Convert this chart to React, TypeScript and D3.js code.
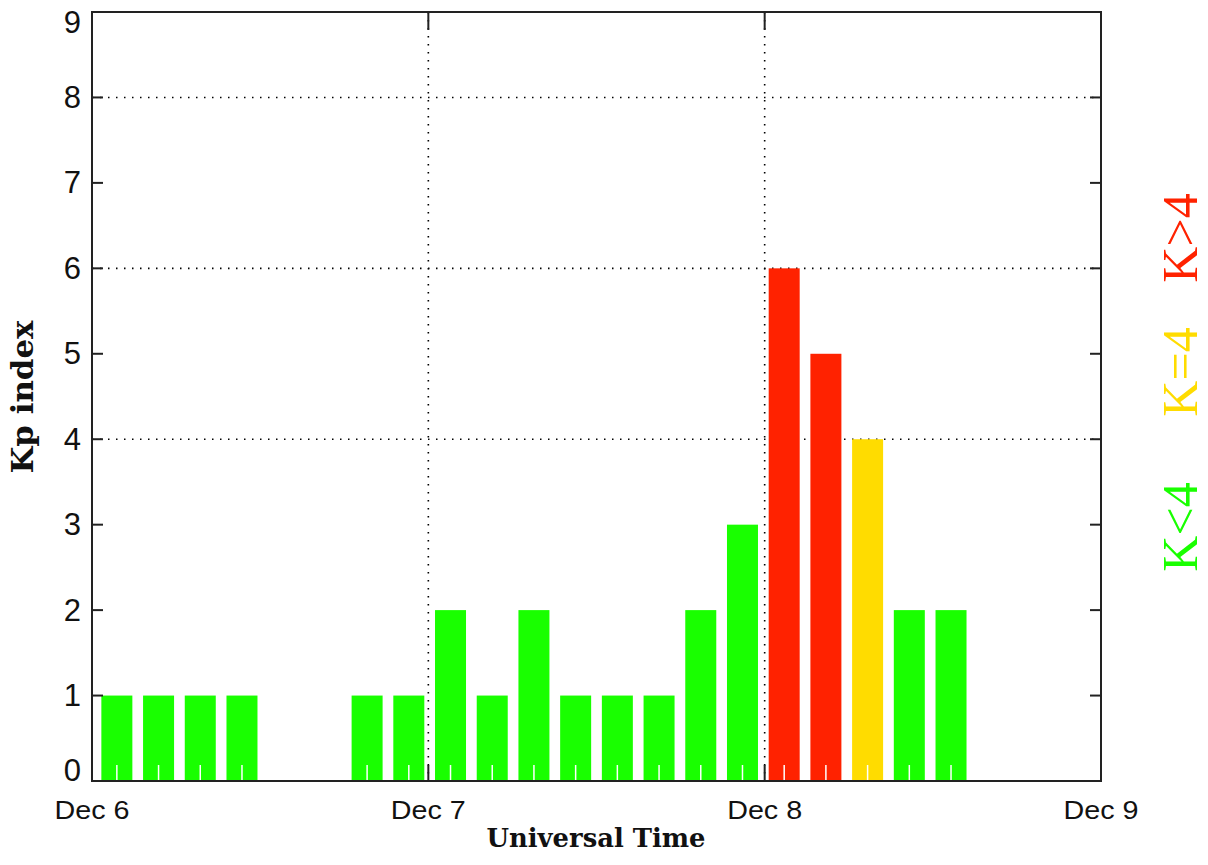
import React from "react";
import * as d3 from "d3";

// ---- data ----
const slotTimes = [
  "2006-12-06T00:00Z", "2006-12-06T03:00Z", "2006-12-06T06:00Z", "2006-12-06T09:00Z",
  "2006-12-06T12:00Z", "2006-12-06T15:00Z", "2006-12-06T18:00Z", "2006-12-06T21:00Z",
  "2006-12-07T00:00Z", "2006-12-07T03:00Z", "2006-12-07T06:00Z", "2006-12-07T09:00Z",
  "2006-12-07T12:00Z", "2006-12-07T15:00Z", "2006-12-07T18:00Z", "2006-12-07T21:00Z",
  "2006-12-08T00:00Z", "2006-12-08T03:00Z", "2006-12-08T06:00Z", "2006-12-08T09:00Z",
  "2006-12-08T12:00Z", "2006-12-08T15:00Z", "2006-12-08T18:00Z", "2006-12-08T21:00Z",
];
const kpValues: (number | null)[] = [
  1, 1, 1, 1, null, null, 1, 1,
  2, 1, 2, 1, 1, 1, 2, 3,
  6, 5, 4, 2, 2, null, null, null,
];
const dayTicks = ["2006-12-06T00:00Z", "2006-12-07T00:00Z", "2006-12-08T00:00Z", "2006-12-09T00:00Z"];
const dayLabels = ["Dec 6", "Dec 7", "Dec 8", "Dec 9"];
const yTicks = [0, 1, 2, 3, 4, 5, 6, 7, 8, 9];
const gridLevels = [4, 6, 8];
const legendItems = [
  { label: "K<4", color: "#19ff00", center: 527 },
  { label: "K=4", color: "#ffdc00", center: 372 },
  { label: "K>4", color: "#ff2200", center: 238 },
];

const GREEN = "#19ff00";
const YELLOW = "#ffdc00";
const RED = "#ff2200";
const colorFor = (v: number) => (v < 4 ? GREEN : v === 4 ? YELLOW : RED);

export default function App() {
  const W = 1208, H = 865;
  const left = 92, right = 1101, top = 12, bottom = 781;
  const x = d3.scaleUtc()
    .domain([new Date(dayTicks[0]), new Date(dayTicks[dayTicks.length - 1])])
    .range([left, right]);
  const band = d3.scaleBand<string>().domain(slotTimes).range([96, 1097]);
  const y = d3.scaleLinear().domain([0, 9]).range([bottom, top]);
  const barW = 31;
  const axisColor = "#222";
  const dotted = "1.5,6.5";

  const bars = slotTimes.map((t, i) => {
    const v = kpValues[i];
    const cx = (band(t) as number) + band.bandwidth() / 2;
    return { v, cx };
  }).filter(b => b.v !== null) as { v: number; cx: number }[];

  const sansFont = "'Liberation Sans', Arial, sans-serif";
  const serifFont = "'DejaVu Serif', 'Liberation Serif', serif";

  return (
    <svg width={W} height={H} style={{ position: "absolute", left: 0, top: 0, background: "#fff" }}>
      <rect x={0} y={0} width={W} height={H} fill="#fff" />
      {/* grid */}
      {gridLevels.map(g => (
        <line key={"gy" + g} x1={left} x2={right} y1={y(g)} y2={y(g)}
          stroke="#000" strokeWidth={1.6} strokeDasharray={dotted} />
      ))}
      {dayTicks.slice(1, -1).map(d => (
        <line key={"gx" + d} x1={x(new Date(d))} x2={x(new Date(d))} y1={top} y2={bottom}
          stroke="#000" strokeWidth={1.6} strokeDasharray={dotted} />
      ))}
      {/* bars */}
      {bars.map((b, i) => (
        <rect key={"b" + i} x={b.cx - barW / 2} y={y(b.v)} width={barW} height={y(0) - y(b.v)}
          fill={colorFor(b.v)} />
      ))}
      {/* white minor ticks on bars */}
      {bars.map((b, i) => (
        <line key={"wt" + i} x1={b.cx} x2={b.cx} y1={bottom} y2={bottom - 16}
          stroke="#fff" strokeWidth={1.5} />
      ))}
      {/* frame */}
      <rect x={left} y={top} width={right - left} height={bottom - top} fill="none"
        stroke={axisColor} strokeWidth={2} />
      {/* y ticks */}
      {yTicks.map(t => (
        <g key={"yt" + t}>
          <line x1={left} x2={left + 11} y1={y(t)} y2={y(t)} stroke={axisColor} strokeWidth={2} />
          <line x1={right - 11} x2={right} y1={y(t)} y2={y(t)} stroke={axisColor} strokeWidth={2} />
          <text x={81} y={Math.min(Math.max(y(t), 22), 770)} textAnchor="end" dominantBaseline="central"
            fontFamily={sansFont} fontSize={31} fill="#111">{t}</text>
        </g>
      ))}
      {/* x ticks */}
      {dayTicks.map((d, i) => {
        const px = x(new Date(d));
        return (
          <g key={"xt" + d}>
            <line x1={px} x2={px} y1={bottom} y2={bottom - 16} stroke={axisColor} strokeWidth={2} />
            <line x1={px} x2={px} y1={top} y2={top + 18} stroke={axisColor} strokeWidth={2} />
            <text x={px} y={819} textAnchor="middle" fontFamily={sansFont} fontSize={25}
              textLength={75} lengthAdjust="spacingAndGlyphs" fill="#111">{dayLabels[i]}</text>
          </g>
        );
      })}
      {/* axis titles */}
      <text x={596} y={847} textAnchor="middle" fontFamily={serifFont} fontWeight="bold" fontSize={26}
        textLength={219} lengthAdjust="spacingAndGlyphs" fill="#111">Universal Time</text>
      <text transform="translate(33,397) rotate(-90)" textAnchor="middle" fontFamily={serifFont}
        fontWeight="bold" fontSize={30} textLength={153} lengthAdjust="spacingAndGlyphs" fill="#111">Kp index</text>
      {/* legend */}
      {legendItems.map(l => (
        <text key={l.label} transform={`translate(1197,${l.center}) rotate(-90)`} textAnchor="middle"
          fontFamily="'Liberation Serif', serif" fontSize={50} fill={l.color}>{l.label}</text>
      ))}
    </svg>
  );
}
